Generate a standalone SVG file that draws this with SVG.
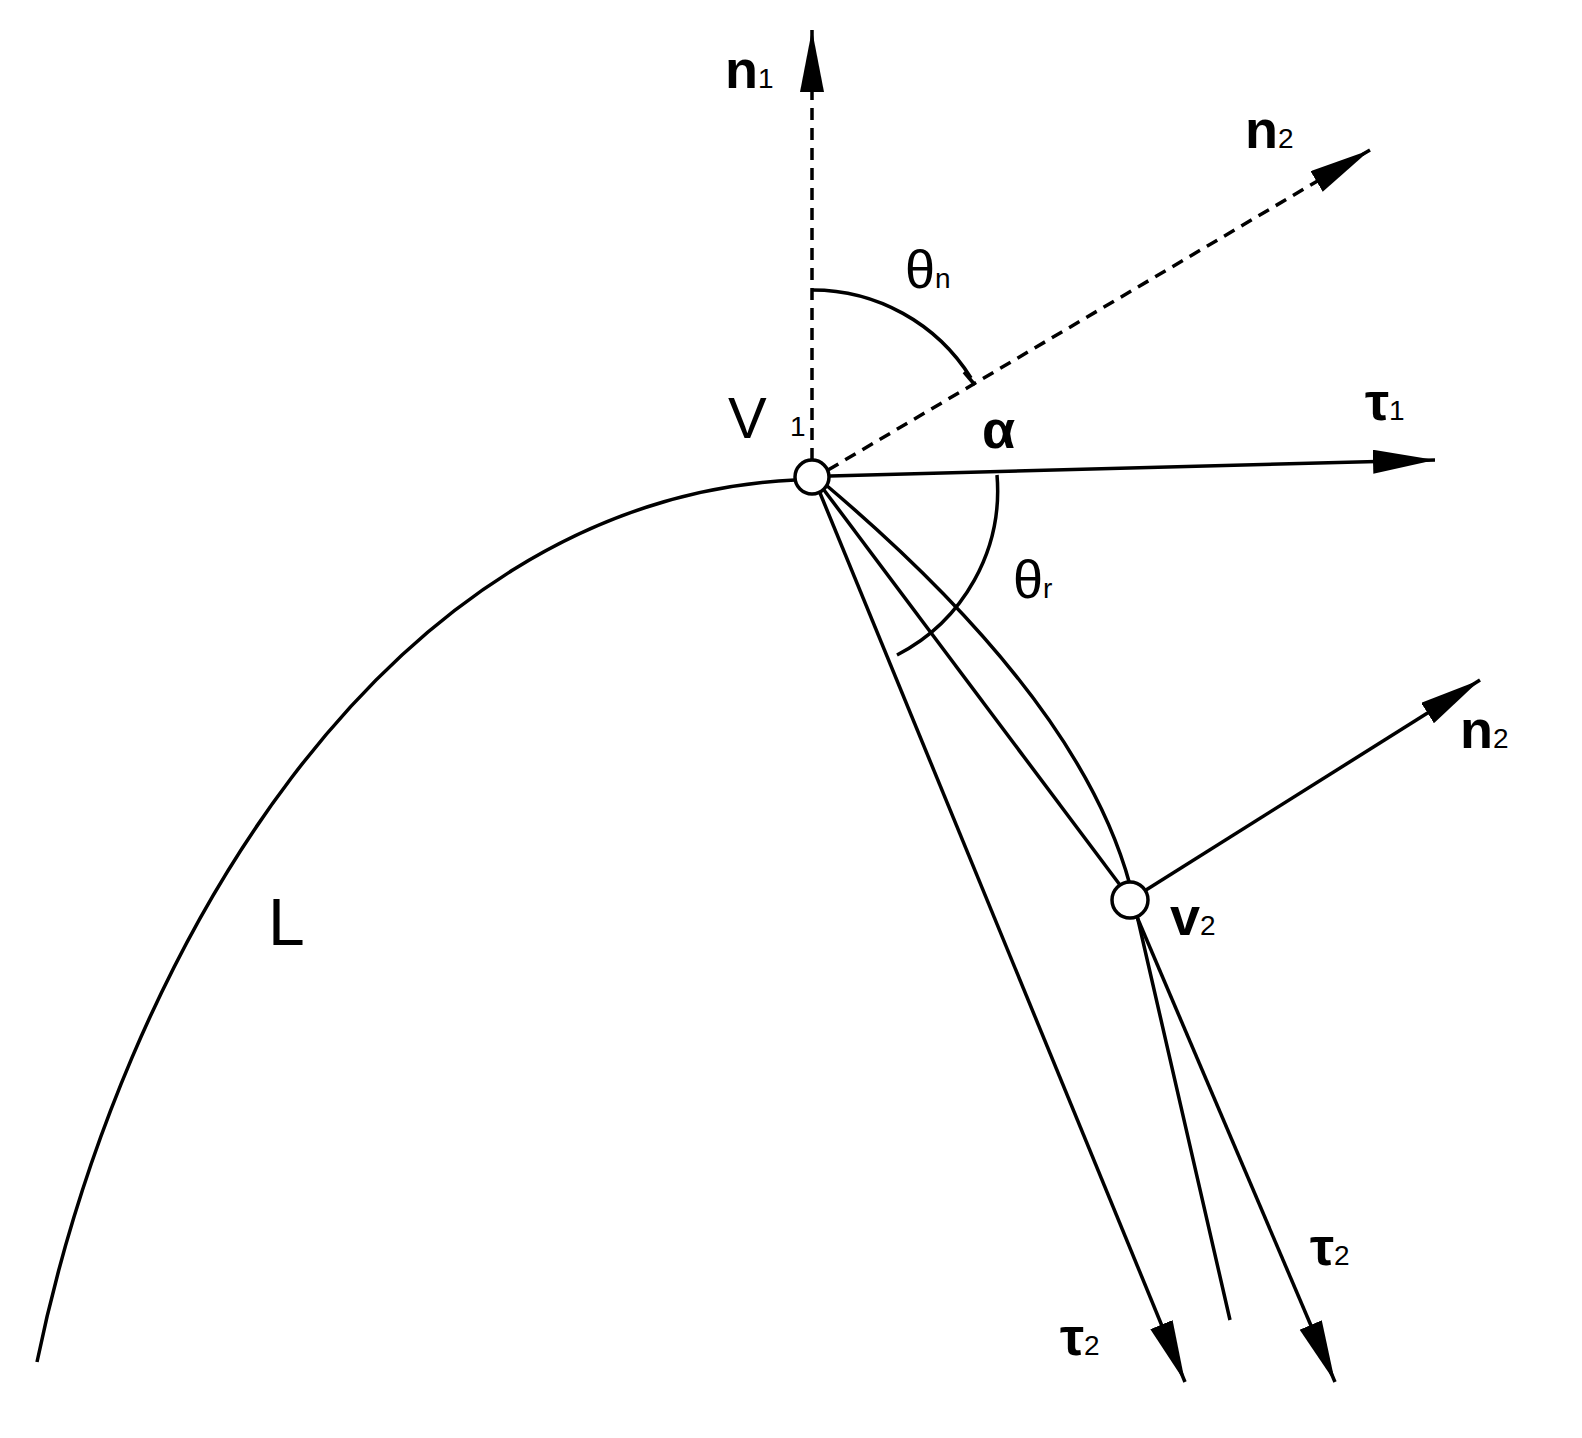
<svg xmlns="http://www.w3.org/2000/svg" width="1582" height="1438" viewBox="0 0 1582 1438">
<style>
.l{fill:none;stroke:#000;stroke-width:3.5}
.d{fill:none;stroke:#000;stroke-width:3.5;stroke-dasharray:12 8}
.t{font-family:"Liberation Sans",Arial,sans-serif;font-size:54px;font-weight:bold;fill:#000}
.s{font-size:28px;font-weight:normal}
.node{fill:#fff;stroke:#000;stroke-width:3.5}
</style>
<defs>
<marker id="a" markerUnits="userSpaceOnUse" markerWidth="64" markerHeight="30" refX="62" refY="12" orient="auto">
<path d="M0,0 L62,12 L0,24 Z" fill="#000"/>
</marker>
</defs>
<rect width="1582" height="1438" fill="#fff"/>
<g id="connectors">
<path id="curveL" class="l" d="M37,1362 C120,960 380,500 795,480"/>
<line class="d" x1="812" y1="460" x2="812" y2="30" marker-end="url(#a)"/>
<line class="d" x1="828" y1="470" x2="1370" y2="150" marker-end="url(#a)"/>
<path class="l" d="M812,290 A187,187 0 0 1 971,378"/>
<line class="l" x1="964" y1="372" x2="975" y2="385"/>
<line class="l" x1="830" y1="476" x2="1435" y2="460" marker-end="url(#a)"/>
<path class="l" d="M997,475 A185,185 0 0 1 897,655"/>
<line class="l" x1="820" y1="493" x2="1185" y2="1382" marker-end="url(#a)"/>
<line class="l" x1="824" y1="490" x2="1120" y2="885"/>
<path class="l" d="M826,485 Q1080,700 1130,885 L1230,1320"/>
<line class="l" x1="1137" y1="917" x2="1335" y2="1382" marker-end="url(#a)"/>
<line class="l" x1="1146" y1="890" x2="1480" y2="680" marker-end="url(#a)"/>
</g>
<g id="V1"><circle class="node" cx="812" cy="477" r="17"/>
<text class="t" x="728" y="438" style="font-weight:normal;font-size:58px">V</text><text class="t s" x="790" y="436">1</text></g>
<g id="V2"><circle class="node" cx="1130" cy="900" r="18"/>
<text class="t" x="1170" y="935">v<tspan class="s">2</tspan></text></g>
<g id="labels">
<text class="t" x="725" y="88">n<tspan class="s">1</tspan></text>
<text class="t" x="1245" y="148">n<tspan class="s">2</tspan></text>
<text class="t" x="905" y="288" style="font-weight:normal">θ<tspan class="s">n</tspan></text>
<text class="t" x="982" y="448">α</text>
<text class="t" x="1365" y="420">τ<tspan class="s">1</tspan></text>
<text class="t" x="1013" y="598" style="font-weight:normal">θ<tspan class="s">r</tspan></text>
<text class="t" x="1460" y="748">n<tspan class="s">2</tspan></text>
<text class="t" x="1310" y="1265">τ<tspan class="s">2</tspan></text>
<text class="t" x="1060" y="1355">τ<tspan class="s">2</tspan></text>
<text class="t" style="font-size:66px;font-weight:normal" x="268" y="945">L</text>
</g>
</svg>
